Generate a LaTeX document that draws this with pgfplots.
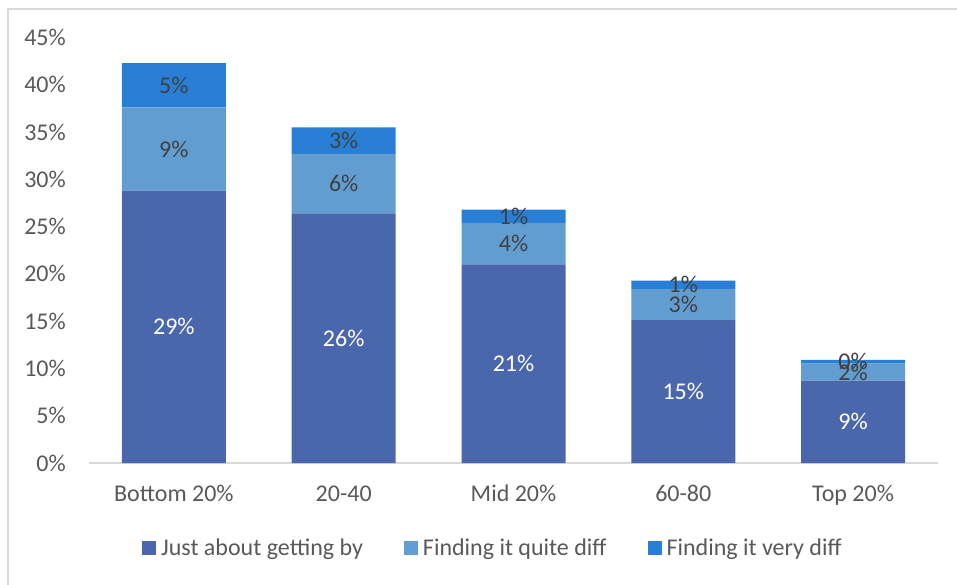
\documentclass[border=0pt]{standalone}
\usepackage{pgfplots}
\pgfplotsset{compat=1.18}
\usepackage{pgfplotstable}
\usepackage{fontspec}
\setmainfont{Carlito}
\definecolor{sJust}{HTML}{4A66AC}
\definecolor{sQuite}{HTML}{629DD1}
\definecolor{sVery}{HTML}{297FD5}
\definecolor{txtgray}{HTML}{595959}
\definecolor{lblgray}{HTML}{404040}
\definecolor{linegray}{HTML}{D9D9D9}
\pgfplotstableread{
x just quite very
0 28.8 8.8 4.7
1 26.4 6.3 2.8
2 21.0 4.4 1.4
3 15.1 3.3 0.9
4 8.7 1.8 0.4
}\datatable
\begin{document}
\begin{tikzpicture}[x=1pt,y=1pt]
\useasboundingbox (0,0) rectangle (957,584);
\fill[white] (0,0) rectangle (957,584);
\draw[linegray, line width=2pt] (8,-2) -- (8,575) -- (960,575);
\begin{axis}[
  at={(89pt,121pt)}, anchor=south west,
  width=849pt, height=425.5pt, scale only axis,
  ybar stacked, bar width=104pt,
  xmin=-0.5, xmax=4.5, ymin=0, ymax=45,
  xtick={0,1,2,3,4},
  xticklabels={Bottom 20\%,20-40,Mid 20\%,60-80,Top 20\%},
  ytick={0,5,...,45},
  yticklabel={\pgfmathprintnumber{\tick}\%},
  /pgf/number format/assume math mode=true,
  major tick length=0pt,
  axis x line*=bottom, axis y line*=left,
  x axis line style={-, draw=linegray, line width=1.5pt},
  y axis line style={draw=none},
  tick label style={font=\fontsize{24}{28}\selectfont, text=txtgray},
  yticklabel style={anchor=east, inner sep=0pt, xshift=-23pt},
  xticklabel style={anchor=base, inner sep=0pt, yshift=-38.7pt},
  legend columns=3,
  legend style={draw=none, fill=none, at={(axis description cs:0.0624,-0.1998)}, anchor=west,
    inner sep=0pt, font=\fontsize{24}{28}\selectfont, text=txtgray,
    nodes={inner sep=0pt},
    /tikz/every odd column/.append style={column sep=5pt},
    /tikz/every even column/.append style={column sep=41pt}},
  legend image code/.code={\fill[#1,draw=none] (0pt,-7pt) rectangle (14pt,7pt);},
  nodes near coords={\pgfmathprintnumber[fixed,precision=0]{\pgfplotspointmeta}\%},
  every node near coord/.append style={font=\fontsize{24}{28}\selectfont, anchor=center},
  clip=false,
]
\addplot[fill=sJust, draw=none, point meta=\thisrow{just},
  every node near coord/.append style={text=white}] table[x=x,y=just]{\datatable};
\addplot[fill=sQuite, draw=none, point meta=\thisrow{quite},
  every node near coord/.append style={text=lblgray}] table[x=x,y=quite]{\datatable};
\addplot[fill=sVery, draw=none, point meta=\thisrow{very},
  every node near coord/.append style={text=lblgray}] table[x=x,y=very]{\datatable};
\legend{Just about getting by,Finding it quite diff,Finding it very diff}
\end{axis}
\end{tikzpicture}
\end{document}
